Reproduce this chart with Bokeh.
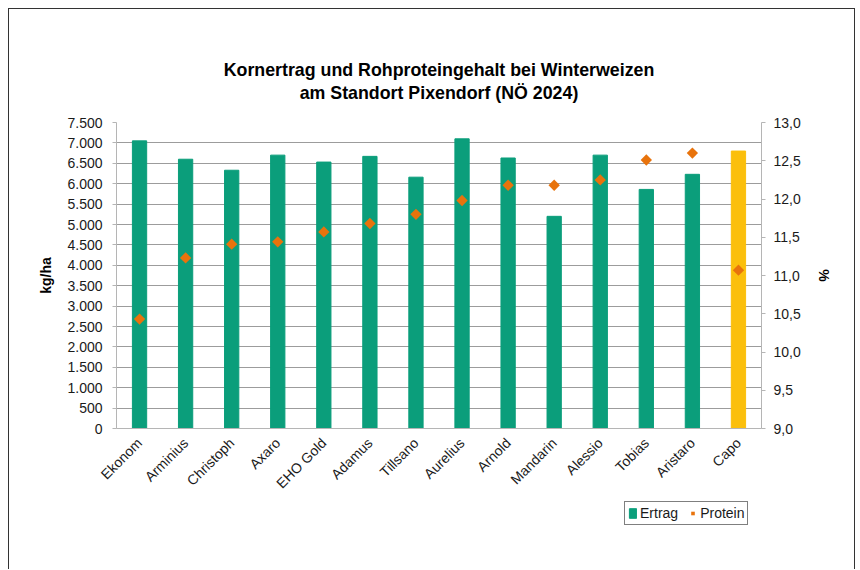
import numpy as np
from bokeh.plotting import figure
from bokeh.layouts import column
from bokeh.models import (ColumnDataSource, Range1d, LinearAxis, FactorRange, Legend,
                          LegendItem, FixedTicker, CustomJSTickFormatter, Title)
from bokeh.embed import file_html
from bokeh.resources import INLINE

# ---- data ----
sorten = ["Ekonom", "Arminius", "Christoph", "Axaro", "EHO Gold", "Adamus", "Tillsano",
          "Aurelius", "Arnold", "Mandarin", "Alessio", "Tobias", "Aristaro", "Capo"]
ertrag = [7050, 6600, 6330, 6700, 6530, 6670, 6160, 7100, 6630, 5200, 6700, 5860, 6230, 6800]
protein = [10.43, 11.23, 11.41, 11.44, 11.57, 11.68, 11.80, 11.98, 12.18, 12.18, 12.25, 12.51, 12.60, 11.07]
ertrag_ticks = [0, 500, 1000, 1500, 2000, 2500, 3000, 3500, 4000, 4500, 5000, 5500, 6000, 6500, 7000, 7500]
protein_ticks = [9.0, 9.5, 10.0, 10.5, 11.0, 11.5, 12.0, 12.5, 13.0]
highlight = "Capo"
series_names = ["Ertrag", "Protein"]
title_lines = ["Kornertrag und Rohproteingehalt bei Winterweizen",
               "am Standort Pixendorf (NÖ 2024)"]

# ---- styles ----
FONT = "Liberation Sans"
GREEN = "#0b9e7b"
YELLOW = "#fbbf0c"
ORANGE = "#e8730c"
AXIS_GRAY = "#b5b5b5"
GRID_GRAY = "#9c9c9c"
TEXT = "#1a1a1a"
FS = "14px"
TFS = "17.8px"

colors = [YELLOW if s == highlight else GREEN for s in sorten]
src = ColumnDataSource(dict(sorte=sorten, ertrag=ertrag, protein=protein, farbe=colors))

p = figure(x_range=FactorRange(*sorten, range_padding=0),
           y_range=Range1d(ertrag_ticks[0], ertrag_ticks[-1]),
           frame_width=645, frame_height=306,
           min_border_left=107, min_border_right=93, min_border_top=113, min_border_bottom=70,
           output_backend="svg", toolbar_location=None)
p.outline_line_color = None
p.background_fill_color = "white"

# spacer between frame and title (closest to frame)
p.add_layout(Title(text=" ", text_font_size="1px", standoff=16), "above")
# second title line
p.add_layout(Title(text=title_lines[1], align="center", text_font=FONT, text_font_size=TFS,
                   text_font_style="bold", text_color="black", standoff=2), "above")
# first title line (outermost)
p.title.text = title_lines[0]
p.title.align = "center"
p.title.text_font = FONT
p.title.text_font_size = TFS
p.title.text_font_style = "bold"
p.title.text_color = "black"
p.title.standoff = 0

p.xgrid.grid_line_color = None
p.ygrid.ticker = FixedTicker(ticks=ertrag_ticks)
p.ygrid.grid_line_color = GRID_GRAY
p.ygrid.grid_line_width = 1

bars = p.vbar(x="sorte", top="ertrag", width=0.31, source=src,
              fill_color="farbe", line_color="farbe")

p.extra_y_ranges = {"prot": Range1d(protein_ticks[0], protein_ticks[-1])}
pts = p.scatter(x="sorte", y="protein", y_range_name="prot", source=src,
                marker="square", angle=np.pi / 4, size=8,
                fill_color=ORANGE, line_color=None)

# left axis
ya = p.yaxis[0]
ya.ticker = FixedTicker(ticks=ertrag_ticks)
ya.formatter = CustomJSTickFormatter(
    code="return Math.round(tick).toString().replace(/\\B(?=(\\d{3})+(?!\\d))/g, '.');")
ya.axis_label = "kg/ha"

# right axis
ra = LinearAxis(y_range_name="prot", ticker=FixedTicker(ticks=protein_ticks),
                formatter=CustomJSTickFormatter(code="return tick.toFixed(1).replace('.', ',');"),
                axis_label="%")
p.add_layout(ra, "right")

for ax in (ya, ra):
    ax.axis_line_color = AXIS_GRAY
    ax.major_tick_line_color = AXIS_GRAY
    ax.major_tick_out = 4
    ax.major_tick_in = 0
    ax.minor_tick_line_color = None
    ax.major_label_text_font = FONT
    ax.major_label_text_font_size = FS
    ax.major_label_text_color = TEXT
    ax.axis_label_text_font = FONT
    ax.axis_label_text_font_size = FS
    ax.axis_label_text_font_style = "bold"
    ax.axis_label_text_color = "black"
ya.major_label_standoff = 10
ya.axis_label_standoff = 10
ra.major_label_standoff = 8
ra.axis_label_standoff = 12

xa = p.xaxis[0]
xa.axis_line_color = AXIS_GRAY
xa.major_tick_line_color = None
xa.minor_tick_line_color = None
xa.major_label_orientation = np.pi / 4
xa.major_label_text_font = FONT
xa.major_label_text_font_size = FS
xa.major_label_text_color = TEXT
xa.major_label_standoff = 6

# ---- legend strip below the chart (its frame is aligned with the chart's frame) ----
LEG_H = 70
pl = figure(x_range=Range1d(0, 1), y_range=Range1d(0, 1), width=845, height=LEG_H,
            x_axis_location=None, y_axis_location=None, min_border=0,
            output_backend="svg", toolbar_location=None)
pl.outline_line_color = None
pl.grid.visible = False
pl.background_fill_color = "white"
# legend proxies: one point each, lying outside the strip's visible range
proxy = ColumnDataSource(dict(x=[-10.0], y=[-10.0]))
leg_bar = pl.vbar(x="x", top="y", width=0.3, source=proxy, fill_color=GREEN, line_color=GREEN)
leg_pt = pl.scatter(x="x", y="y", source=proxy, marker="square", angle=np.pi / 4, size=7,
                    fill_color=ORANGE, line_color=None)
legend = Legend(items=[LegendItem(label=series_names[0], renderers=[leg_bar], index=0),
                       LegendItem(label=series_names[1], renderers=[leg_pt], index=0)],
                location=(508, LEG_H - 26), orientation="horizontal",
                border_line_color="black", border_line_width=1,
                label_text_font=FONT, label_text_font_size=FS, label_text_color=TEXT,
                glyph_width=9, glyph_height=12, label_standoff=3, spacing=10,
                padding=3, margin=0, background_fill_color="white", background_fill_alpha=1)
pl.add_layout(legend)

layout = column(p, pl, spacing=0)
layout.margin = (8, 0, 0, 8)
layout.styles = {"border-top": "1px solid #333", "border-left": "1px solid #333",
                 "border-right": "1px solid #333", "background": "white"}

open("out.html", "w").write(file_html(layout, INLINE))
